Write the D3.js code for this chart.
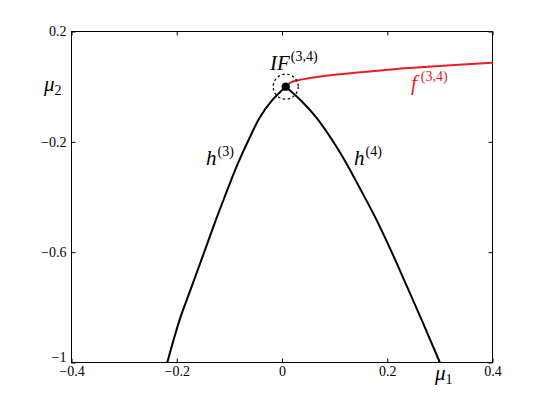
<!DOCTYPE html>
<html>
<head>
<meta charset="utf-8">
<script src="https://cdn.jsdelivr.net/npm/d3@7/dist/d3.min.js"></script>
<style>
  html, body { margin: 0; padding: 0; background: #fff; }
  svg { display: block; }
  svg text { font-family: "Liberation Serif", "DejaVu Serif", serif; }
</style>
</head>
<body>
<svg id="chart" width="545" height="409"></svg>
<script>
// ---- data ----
const xTicks = [-0.4, -0.2, 0, 0.2, 0.4];
const yTicks = [-1, -0.6, -0.2, 0.2];
const xTickLabels = ["\u22120.4", "\u22120.2", "0", "0.2", "0.4"];
const yTickLabels = ["\u22121", "\u22120.6", "\u22120.2", "0.2"];

// h^(3) branch: [mu1, mu2]
const h3X = [0.007, -0.019, -0.042, -0.064, -0.084, -0.102, -0.126, -0.149, -0.172, -0.195, -0.218];
const h3Y = [0.0, -0.050, -0.111, -0.195, -0.279, -0.365, -0.485, -0.606, -0.727, -0.848, -1.0];
// h^(4) branch
const h4X = [0.007, 0.036, 0.065, 0.096, 0.123, 0.147, 0.177, 0.210, 0.238, 0.266, 0.300];
const h4Y = [0.0, -0.050, -0.111, -0.195, -0.280, -0.365, -0.473, -0.606, -0.727, -0.848, -1.0];
// f^(3,4) curve
const fX = [0.007, 0.016, 0.060, 0.130, 0.187, 0.250, 0.314, 0.400];
const fY = [0.0, 0.015, 0.033, 0.049, 0.059, 0.069, 0.077, 0.087];
// IF point
const ifPoint = [0.007, 0.0];

// ---- layout ----
const svg = d3.select("#chart");
const L = 71.5, R = 492.5, T = 31.5, B = 362.5;
const x = d3.scaleLinear().domain([-0.4, 0.4]).range([L, R]);
const y = d3.scaleLinear().domain([-1, 0.2]).range([B, T]);
const FONT = "'Liberation Serif', 'DejaVu Serif', serif";

// box
svg.append("rect").attr("x", L).attr("y", T).attr("width", R - L).attr("height", B - T)
  .attr("fill", "none").attr("stroke", "#000").attr("stroke-width", 1);

function styleAxis(g) {
  g.attr("font-family", FONT).attr("font-size", 14);
  g.select(".domain").remove();
  g.selectAll(".tick line").attr("stroke", "#000").attr("stroke-width", 1);
  g.selectAll("text").attr("fill", "#000");
}

const xAxis = svg.append("g").attr("transform", `translate(0,${B})`)
  .call(d3.axisBottom(x).tickValues(xTicks).tickSize(-4).tickPadding(8)
    .tickFormat((d, i) => xTickLabels[i]));
styleAxis(xAxis);
xAxis.selectAll("text").attr("y", 4).attr("dy", "0.71em");

svg.append("g").attr("transform", `translate(0,${T})`)
  .call(d3.axisTop(x).tickValues(xTicks).tickSize(-4).tickFormat(""))
  .call(styleAxis);

const yAxis = svg.append("g").attr("transform", `translate(${L},0)`)
  .call(d3.axisLeft(y).tickValues(yTicks).tickSize(-4).tickPadding(5)
    .tickFormat((d, i) => yTickLabels[i]));
styleAxis(yAxis);
yAxis.selectAll(".tick").filter(d => d === -1).select("text").attr("dy", "-0.1em");

svg.append("g").attr("transform", `translate(${R},0)`)
  .call(d3.axisRight(y).tickValues(yTicks).tickSize(-4).tickFormat(""))
  .call(styleAxis);

// curves
const line = d3.line().x(d => x(d[0])).y(d => y(d[1])).curve(d3.curveCatmullRom.alpha(0.5));

const plot = svg.append("g");
plot.append("path").datum(h3X.map((v, i) => [v, h3Y[i]]))
  .attr("d", line).attr("fill", "none").attr("stroke", "#000").attr("stroke-width", 2);
plot.append("path").datum(h4X.map((v, i) => [v, h4Y[i]]))
  .attr("d", line).attr("fill", "none").attr("stroke", "#000").attr("stroke-width", 2);
plot.append("path").datum(fX.map((v, i) => [v, fY[i]]))
  .attr("d", line).attr("fill", "none").attr("stroke", "#ec1c24").attr("stroke-width", 2);

// IF point and dashed circle
plot.append("circle").attr("cx", x(ifPoint[0])).attr("cy", y(ifPoint[1])).attr("r", 12.5)
  .attr("fill", "none").attr("stroke", "#000").attr("stroke-width", 1.2).attr("stroke-dasharray", "2.5,2.5");
plot.append("circle").attr("cx", x(ifPoint[0])).attr("cy", y(ifPoint[1])).attr("r", 4.2)
  .attr("fill", "#000");

// labels
function label(px, py, main, sup, sub, color, supDx) {
  const t = svg.append("text").attr("x", px).attr("y", py).attr("fill", color || "#000")
    .attr("font-family", FONT).attr("font-size", 21);
  t.append("tspan").text(main).attr("font-style", "italic");
  if (sup) t.append("tspan").text(sup).attr("dx", supDx || 1).attr("dy", -9).attr("font-size", 14);
  if (sub) t.append("tspan").text(sub).attr("dy", 4).attr("font-size", 14);
  return t;
}
label(270, 70, "IF", "(3,4)", null, null, 1);
label(411, 90, "f", "(3,4)", null, "#ec1c24", 4);
label(206, 165, "h", "(3)");
label(354, 165, "h", "(4)");
label(44, 91, "\u03bc", null, "2");
label(435, 380, "\u03bc", null, "1");
</script>
</body>
</html>
